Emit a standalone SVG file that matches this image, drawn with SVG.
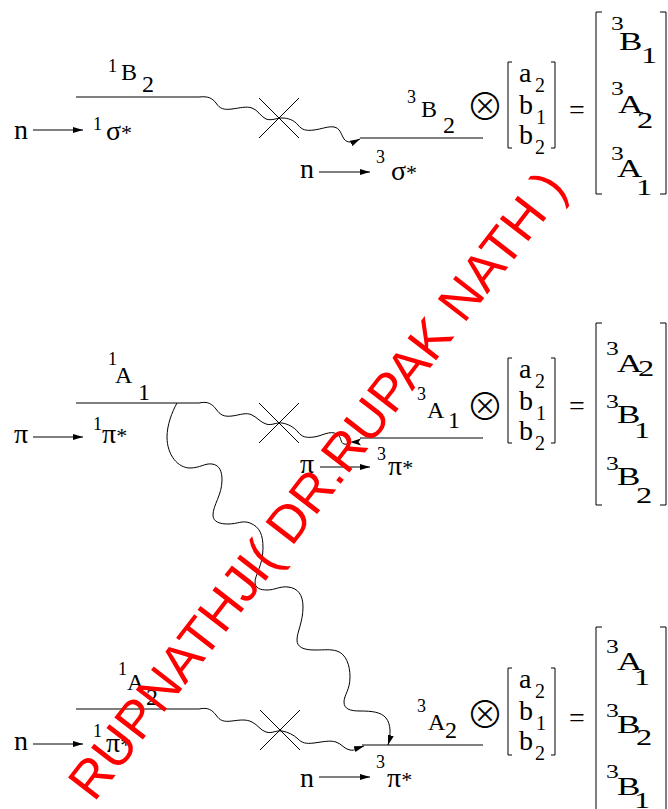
<svg xmlns="http://www.w3.org/2000/svg" width="668" height="809" viewBox="0 0 668 809" font-family="'Liberation Serif','DejaVu Serif',serif">
<defs>
<style>
.t{font-family:'Liberation Serif','DejaVu Serif',serif;fill:#000}
.sup{font-size:18px}
.lg{font-size:24px}
.nn{font-size:28px}
.ab{font-size:28px}
.ms{font-size:20px}
.bs{font-size:19px}
.bl{font-size:26px}
.bb{font-size:24px}
.ot{font-family:'DejaVu Sans ExtraLight','Noto Sans CJK JP','DejaVu Sans',sans-serif;font-size:38px;font-weight:300;fill:#000}
.lv{stroke:#000;stroke-width:1;fill:none}
.wv{stroke:#000;stroke-width:1;fill:none}
.br{stroke:#000;stroke-width:1;fill:none}
.ar{stroke:#000;stroke-width:1;fill:none;marker-end:url(#ah)}
.wm{font-family:'Liberation Sans',Arial,sans-serif;font-size:52.5px;fill:#ff0000}
</style>
<marker id="ah" markerWidth="10" markerHeight="6" refX="10" refY="3" orient="auto" markerUnits="userSpaceOnUse"><path d="M0,0 L10,3 L0,6 z" fill="#000"/></marker>
</defs>
<rect width="668" height="809" fill="#fff"/>

<g class="t">
<!-- TOP BLOCK -->
<g id="top-singlet">
<line class="lv" x1="76" y1="97" x2="199" y2="97"/>
<text class="sup" x="108" y="72">1</text><text class="lg" x="121" y="80">B</text><text class="lg" x="142" y="92">2</text>
<text class="nn" x="14" y="139">n</text>
<text class="sup" x="93" y="130">1</text><text class="nn" x="106" y="140">σ<tspan font-size="22">*</tspan></text>
</g>
<g id="top-triplet">
<line class="lv" x1="360" y1="138" x2="483" y2="138"/>
<text class="sup" x="407" y="103">3</text><text class="lg" x="421" y="117">B</text><text class="lg" x="443" y="133">2</text>
<text class="nn" x="300" y="178">n</text>
<text class="sup" x="376" y="163">3</text><text class="nn" x="391" y="180">σ<tspan font-size="22">*</tspan></text>
</g>
<g id="top-product">
<text class="ot" x="485" y="120" text-anchor="middle">⊗</text>
<path class="br" d="M512,62 H508 V148 H512 M551,62 H555 V148 H551"/>
<text class="ab" x="519" y="82">a</text><text class="ms" x="535" y="92">2</text>
<text class="ab" x="519" y="114">b</text><text class="ms" x="536" y="124">1</text>
<text class="ab" x="519" y="144">b</text><text class="ms" x="535" y="154">2</text>
<text class="nn" x="569" y="119">=</text>
<path class="br" d="M602,12 H596 V194 H602 M660,12 H666 V194 H660"/>
<text class="bs" transform="translate(611,30) scale(1.35,1)">3</text><text class="bl" transform="translate(619,50) scale(1.35,1)">B</text><text class="bb" transform="translate(641,63) scale(1.35,1)">1</text>
<text class="bs" transform="translate(611,95) scale(1.35,1)">3</text><text class="bl" transform="translate(618,113) scale(1.35,1)">A</text><text class="bb" transform="translate(637,128) scale(1.35,1)">2</text>
<text class="bs" transform="translate(611,160) scale(1.35,1)">3</text><text class="bl" transform="translate(617,177) scale(1.35,1)">A</text><text class="bb" transform="translate(636,195) scale(1.35,1)">1</text>
</g>

<!-- MIDDLE BLOCK -->
<g id="mid-singlet">
<line class="lv" x1="76" y1="403" x2="199" y2="403"/>
<text class="sup" x="108" y="365">1</text><text class="lg" x="115" y="383">A</text><text class="lg" x="138" y="400">1</text>
<text class="nn" x="14" y="443">π</text>
<text class="sup" x="93" y="430">1</text><text class="nn" x="102" y="443">π<tspan font-size="22">*</tspan></text>
</g>
<g id="mid-triplet">
<line class="lv" x1="360" y1="438" x2="483" y2="438"/>
<text class="sup" x="417" y="400">3</text><text class="lg" x="427" y="418">A</text><text class="lg" x="448" y="428">1</text>
<text class="nn" x="300" y="473">π</text>
<text class="sup" x="377" y="460">3</text><text class="nn" x="388" y="475">π<tspan font-size="22">*</tspan></text>
</g>
<g id="mid-product">
<text class="ot" x="485" y="420" text-anchor="middle">⊗</text>
<path class="br" d="M512,358 H508 V443 H512 M551,358 H555 V443 H551"/>
<text class="ab" x="519" y="378">a</text><text class="ms" x="535" y="388">2</text>
<text class="ab" x="519" y="410">b</text><text class="ms" x="536" y="420">1</text>
<text class="ab" x="519" y="440">b</text><text class="ms" x="535" y="450">2</text>
<text class="nn" x="569" y="415">=</text>
<path class="br" d="M602,323 H596 V505 H602 M660,323 H666 V505 H660"/>
<text class="bs" transform="translate(606,355) scale(1.35,1)">3</text><text class="bl" transform="translate(617,372) scale(1.35,1)">A</text><text class="bb" transform="translate(638,376) scale(1.35,1)">2</text>
<text class="bs" transform="translate(606,408) scale(1.35,1)">3</text><text class="bl" transform="translate(617,423) scale(1.35,1)">B</text><text class="bb" transform="translate(634,438) scale(1.35,1)">1</text>
<text class="bs" transform="translate(606,470) scale(1.35,1)">3</text><text class="bl" transform="translate(617,485) scale(1.35,1)">B</text><text class="bb" transform="translate(636,503) scale(1.35,1)">2</text>
</g>

<!-- BOTTOM BLOCK -->
<g id="bot-singlet">
<line class="lv" x1="76" y1="709" x2="199" y2="709"/>
<text class="sup" x="118" y="675">1</text><text class="lg" x="127" y="690">A</text><text class="lg" x="146" y="705">2</text>
<text class="nn" x="14" y="750">n</text>
<text class="sup" x="93" y="737">1</text><text class="nn" x="106" y="752">π<tspan font-size="22">*</tspan></text>
</g>
<g id="bot-triplet">
<line class="lv" x1="362" y1="745" x2="483" y2="745"/>
<text class="sup" x="417" y="712">3</text><text class="lg" x="428" y="730">A</text><text class="lg" x="445" y="738">2</text>
<text class="nn" x="300" y="787">n</text>
<text class="sup" x="376" y="768">3</text><text class="nn" x="387" y="787">π<tspan font-size="22">*</tspan></text>
</g>
<g id="bot-product">
<text class="ot" x="485" y="728" text-anchor="middle">⊗</text>
<path class="br" d="M512,668 H508 V755 H512 M551,668 H555 V755 H551"/>
<text class="ab" x="519" y="688">a</text><text class="ms" x="535" y="698">2</text>
<text class="ab" x="519" y="720">b</text><text class="ms" x="536" y="730">1</text>
<text class="ab" x="519" y="750">b</text><text class="ms" x="535" y="760">2</text>
<text class="nn" x="569" y="727">=</text>
<path class="br" d="M602,627 H596 V812 M660,627 H666 V812"/>
<text class="bs" transform="translate(606,653) scale(1.35,1)">3</text><text class="bl" transform="translate(617,670) scale(1.35,1)">A</text><text class="bb" transform="translate(634,685) scale(1.35,1)">1</text>
<text class="bs" transform="translate(606,717) scale(1.35,1)">3</text><text class="bl" transform="translate(617,733) scale(1.35,1)">B</text><text class="bb" transform="translate(636,745) scale(1.35,1)">2</text>
<text class="bs" transform="translate(606,778) scale(1.35,1)">3</text><text class="bl" transform="translate(617,795) scale(1.35,1)">B</text><text class="bb" transform="translate(634,808) scale(1.35,1)">1</text>
</g>
</g>

<!-- CONNECTORS -->
<g id="connectors">
<line class="ar" x1="33" y1="130" x2="83" y2="130"/>
<line class="ar" x1="319" y1="172" x2="370" y2="172"/>
<line class="ar" x1="33" y1="437" x2="83" y2="437"/>
<line class="ar" x1="320" y1="467" x2="370" y2="467"/>
<line class="ar" x1="33" y1="744" x2="83" y2="744"/>
<line class="ar" x1="319" y1="777" x2="370" y2="777"/>

<path class="lv" d="M259,98 L299,138 M299,98 L259,138"/>
<path class="lv" d="M259,403 L299,443 M299,403 L259,443"/>
<path class="lv" d="M260,710 L300,750 M300,710 L260,750"/>

<path class="wv" style="marker-end:url(#ah)" d="M199,97 C208,96 212,98 216,103 C220,109 224,110 232,109 C240,108 246,106 252,108 C258,110 260,116 266,119 C272,121 276,118 282,118 C288,118 294,120 298,125 C302,130 306,131 314,130 C322,129 328,126 334,127 C340,128 341,134 344,139 C347,143 352,143 360,139"/>

<path class="wv" d="M199,403 C208,401 212,404 216,409 C220,415 224,417 232,416 C240,415 246,412 252,415 C258,418 260,422 266,424 C272,426 276,422 282,423 C288,424 294,427 298,432 C302,437 306,438 314,437 C322,436 330,430 337,434 C342,437 340,443 344,444 C347,445 349,443 351,442"/>
<path d="M350,442 L361,438.5 L358.5,442 L361,445.5 z" fill="#000"/>

<path class="wv" style="marker-end:url(#ah)" d="M199,709 C208,707 212,710 216,715 C220,721 224,722 232,721 C240,720 246,719 252,722 C258,725 260,730 266,732 C272,734 276,730 282,731 C288,732 294,735 298,739 C302,743 306,744 314,743 C322,742 330,740 336,742 C342,744 344,749 350,750 C355,751 358,748 364,746"/>

<path class="wv" style="marker-end:url(#ah)" d="M177,403 C172,412 167,425 167,437 C167,455 178,468 190,468 C200,468 205,463 212,464 C220,465 222,472 222,480 C222,495 213,505 213,515 C213,522 220,524 228,524 C238,524 242,520 250,523 C260,527 263,535 263,548 C263,565 255,575 255,582 C255,588 260,590 267,590 C275,590 280,586 288,587 C298,588 303,595 303,607 C303,622 297,632 297,640 C297,647 303,650 315,650 C325,650 330,649 337,651 C346,654 350,665 350,677 C350,690 344,695 344,702 C344,709 350,711 360,711 C372,711 381,712 386,718 C391,724 391,735 388,745"/>
</g>

<!-- WATERMARK -->
<text class="wm" transform="translate(94,803) rotate(-52.3)">RUPNATHJI( DR.RUPAK NATH )</text>
</svg>
